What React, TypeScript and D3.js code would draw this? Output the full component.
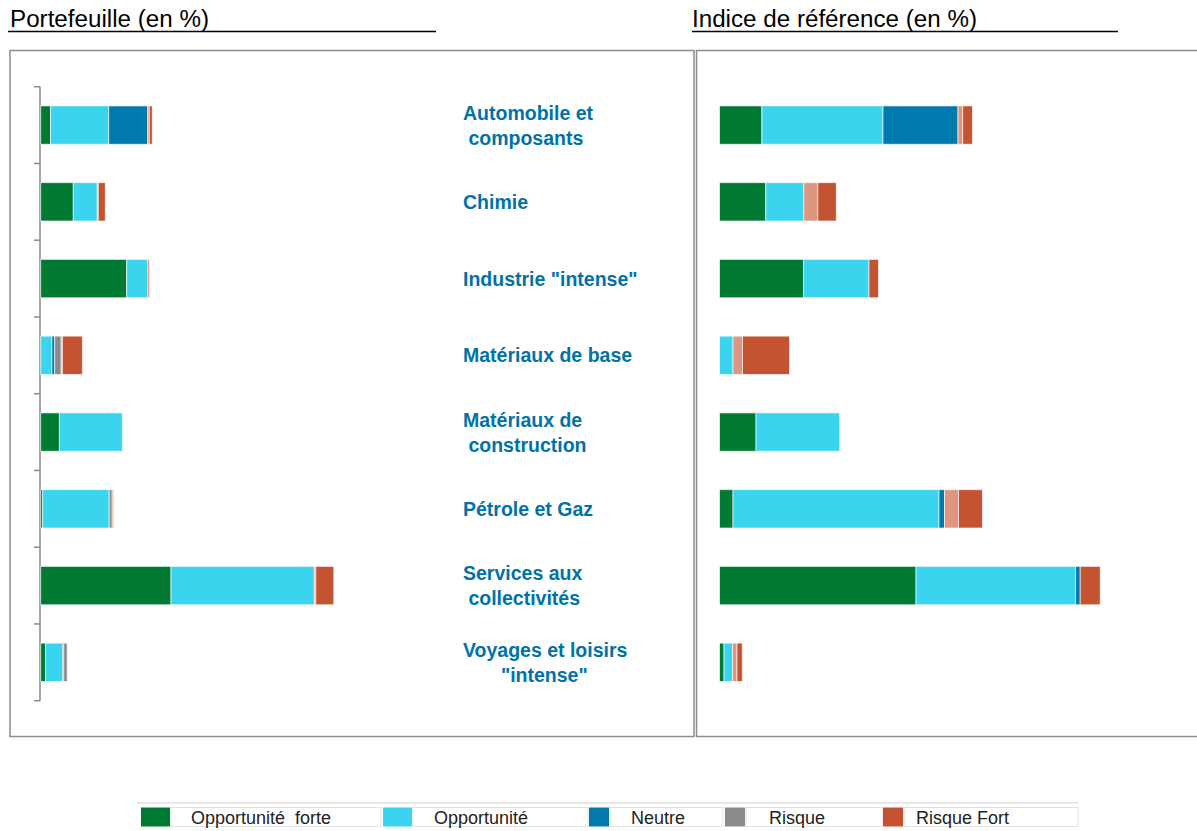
import React from "react";
import * as d3 from "d3";

const categories = [
  "Automobile et\n composants",
  "Chimie",
  "Industrie \"intense\"",
  "Matériaux de base",
  "Matériaux de\n construction",
  "Pétrole et Gaz",
  "Services aux\n collectivités",
  "Voyages et loisirs\n       \"intense\"",
];

const seriesKeys = ["forte", "opp", "neutre", "risque", "modere", "fort"];
const seriesColors = ["#007A33", "#3AD4EE", "#0079AE", "#878B8B", "#DE9681", "#C45431"];

// Portefeuille (en %)
const portForte = [0.98, 3.26, 8.6, 0, 1.87, 0.2, 13.03, 0.48];
const portOpp = [5.82, 2.4, 2.1, 1.12, 6.3, 6.65, 14.33, 1.7];
const portNeutre = [3.9, 0, 0, 0.28, 0, 0, 0, 0.12];
const portRisque = [0, 0, 0, 0.65, 0, 0.3, 0, 0.35];
const portModere = [0.16, 0.1, 0.2, 0.12, 0, 0.15, 0.15, 0];
const portFort = [0.3, 0.7, 0, 2.0, 0, 0, 1.8, 0];

// Indice de référence (en %)
const indForte = [4.24, 4.63, 8.4, 0, 3.65, 1.35, 19.65, 0.45];
const indOpp = [12.11, 3.8, 6.55, 1.35, 8.35, 20.6, 15.95, 0.85];
const indNeutre = [7.5, 0, 0, 0, 0, 0.55, 0.47, 0];
const indRisque = [0, 0, 0, 0, 0, 0, 0, 0];
const indModere = [0.47, 1.4, 0, 0.95, 0, 1.4, 0, 0.45];
const indFort = [0.98, 1.85, 0.95, 4.7, 0, 2.4, 2.0, 0.53];

const legendLabels = ["Opportunité  forte", "Opportunité", "Neutre", "Risque", "Risque Fort"];
const legendColors = ["#007A33", "#3AD4EE", "#0079AE", "#878B8B", "#C45431"];

const FONT = "Arial, 'Liberation Sans', Helvetica, sans-serif";

function buildRows(arrs: number[][]) {
  return categories.map((c, i) => {
    const o: any = { cat: c };
    seriesKeys.forEach((k, j) => (o[k] = arrs[j][i]));
    return o;
  });
}

const portRows = buildRows([portForte, portOpp, portNeutre, portRisque, portModere, portFort]);
const indRows = buildRows([indForte, indOpp, indNeutre, indRisque, indModere, indFort]);

const y = d3
  .scaleBand<string>()
  .domain(categories)
  .range([86.7, 700.7])
  .paddingInner(0.5)
  .paddingOuter(0.25);

const xLeft = d3.scaleLinear().domain([0, 65]).range([40.7, 690.7]);
const xRight = d3.scaleLinear().domain([0, 48]).range([719.5, 1199.5]);

const stack = d3.stack<any>().keys(seriesKeys);

function Bars({ rows, x }: { rows: any[]; x: d3.ScaleLinear<number, number> }) {
  const series = stack(rows);
  return (
    <g>
      {series.map((s, si) => (
        <g key={s.key} fill={seriesColors[si]}>
          {s.map((d, i) => {
            const w = x(d[1]) - x(d[0]);
            if (w <= 0) return null;
            return (
              <rect
                key={i}
                x={x(d[0])}
                y={y(categories[i])}
                width={w}
                height={y.bandwidth()}
                stroke="#fff"
                strokeOpacity={0.65}
                strokeWidth={1}
              />
            );
          })}
        </g>
      ))}
    </g>
  );
}

export default function App() {
  const step = y.step();
  const ticks = d3.range(categories.length + 1).map((i) => 86.7 + i * step);
  const legendItems = [
    { sx: 141, sw: 29, cellEnd: 381, tx: 191 },
    { sx: 383, sw: 29, cellEnd: 588, tx: 434 },
    { sx: 589, sw: 20, cellEnd: 723, tx: 631 },
    { sx: 725, sw: 20, cellEnd: 882, tx: 769 },
    { sx: 883, sw: 20, cellEnd: 1078, tx: 916 },
  ];
  return (
    <svg
      width={1197}
      height={831}
      style={{ position: "absolute", left: 0, top: 0, background: "#fff" }}
      fontFamily={FONT}
    >
      {/* Titles */}
      <text x={10} y={27} fontSize={24.2} fill="#000">
        Portefeuille (en %)
      </text>
      <line x1={8} x2={436} y1={31.5} y2={31.5} stroke="#000" strokeWidth={1.5} />
      <text x={692} y={27} fontSize={24.2} fill="#000">
        Indice de référence (en %)
      </text>
      <line x1={692} x2={1118} y1={31.5} y2={31.5} stroke="#000" strokeWidth={1.5} />

      {/* Frames */}
      <rect x={10} y={50.5} width={684} height={686} fill="none" stroke="#8c8c8c" strokeWidth={1.5} />
      <rect x={696.5} y={50.5} width={502} height={686} fill="none" stroke="#8c8c8c" strokeWidth={1.5} />

      {/* Left axis */}
      <line x1={40} x2={40} y1={ticks[0]} y2={ticks[ticks.length - 1]} stroke="#8a8a8a" strokeWidth={1.5} />
      {ticks.map((t, i) => (
        <line key={i} x1={34} x2={40} y1={t} y2={t} stroke="#8a8a8a" strokeWidth={1.5} />
      ))}

      <Bars rows={portRows} x={xLeft} />
      <Bars rows={indRows} x={xRight} />

      {/* Category labels */}
      {categories.map((c) => {
        const lines = c.split("\n");
        const cy = (y(c) as number) + y.bandwidth() / 2;
        const lh = 25;
        return (
          <text
            key={c}
            fontSize={19.5}
            fontWeight="bold"
            fill="#0072A8"
            style={{ whiteSpace: "pre" }}
          >
            {lines.map((l, i) => (
              <tspan key={i} x={463} y={cy + (i - (lines.length - 1) / 2) * lh + 7}>
                {l}
              </tspan>
            ))}
          </text>
        );
      })}

      {/* Legend */}
      <line x1={137} x2={1078} y1={803} y2={803} stroke="#d0d0d0" strokeWidth={1} />
      {legendItems.map((it, i) => (
        <g key={i}>
          <rect x={it.sx} y={807.5} width={it.sw} height={19} fill={legendColors[i]} />
          <rect
            x={it.sx + it.sw + 1}
            y={807.5}
            width={it.cellEnd - it.sx - it.sw - 1}
            height={19}
            fill="none"
            stroke="#e2e2e2"
            strokeWidth={1}
          />
          <text x={it.tx} y={823.5} fontSize={18} fill="#222" style={{ whiteSpace: "pre" }}>
            {legendLabels[i]}
          </text>
        </g>
      ))}
    </svg>
  );
}
